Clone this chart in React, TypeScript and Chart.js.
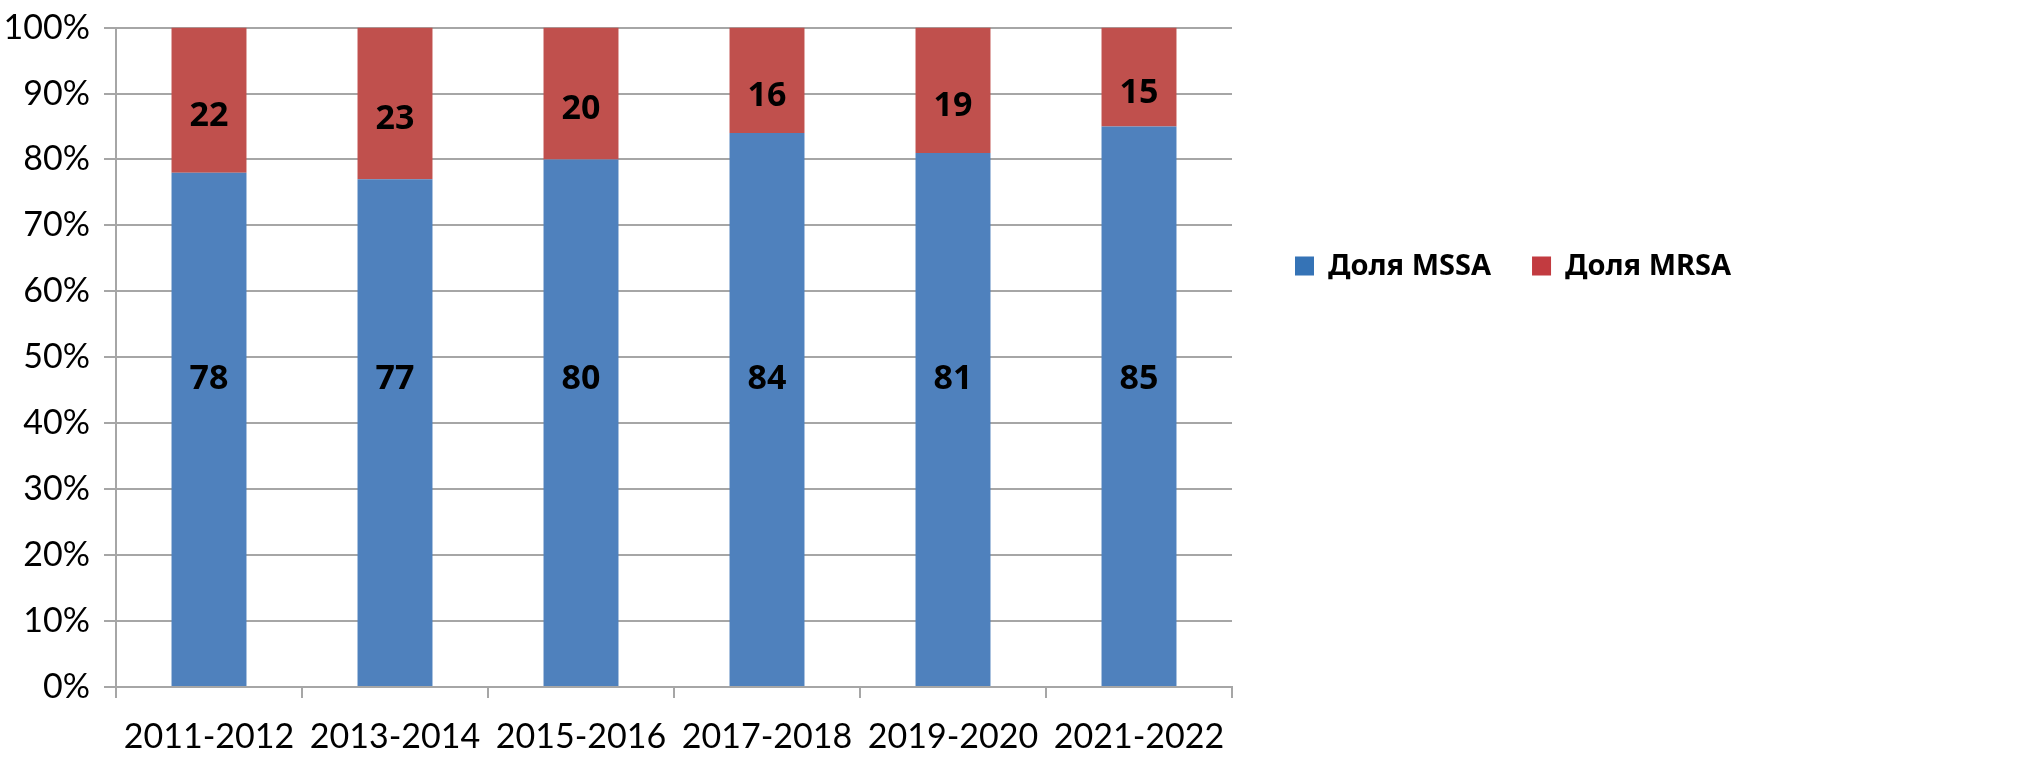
import React, { useEffect, useRef } from "react";
import { Chart, registerables } from "chart.js";

Chart.register(...registerables);

const categories = ["2011-2012", "2013-2014", "2015-2016", "2017-2018", "2019-2020", "2021-2022"];
const mssaShare = [78, 77, 80, 84, 81, 85];
const mrsaShare = [22, 23, 20, 16, 19, 15];
const seriesNames = ["Доля MSSA", "Доля MRSA"];
const yTicks = [0, 10, 20, 30, 40, 50, 60, 70, 80, 90, 100];

const BLUE = "#4f81bd";
const RED = "#c0504d";
const GRID = "#a6a6a6";

const labelPlugin = {
  id: "segmentLabels",
  afterDatasetsDraw(chart: any) {
    const ctx = chart.ctx;
    const yScale = chart.scales.y;
    ctx.save();
    ctx.font = "bold 34px 'Noto Sans'";
    ctx.fillStyle = "#000";
    ctx.textAlign = "center";
    ctx.textBaseline = "middle";
    chart.data.datasets.forEach((ds: any, di: number) => {
      const meta = chart.getDatasetMeta(di);
      meta.data.forEach((bar: any, i: number) => {
        let y: number;
        if (di === 0) {
          y = yScale.getPixelForValue(46.7);
        } else {
          y = (bar.y + bar.base) / 2 + 16;
        }
        ctx.fillText(String(ds.data[i]), bar.x, y);
      });
    });
    ctx.restore();
  },
};

const legendPlugin = {
  id: "rowLegend",
  afterDraw(chart: any) {
    const ctx = chart.ctx;
    ctx.save();
    ctx.font = "bold 29px 'Noto Sans'";
    ctx.textBaseline = "middle";
    ctx.textAlign = "left";
    let x = chart.chartArea.right + 63;
    const cy = 266;
    const box = 19;
    const colors = ["#3573b6", "#c23b40"];
    chart.data.datasets.forEach((ds: any, i: number) => {
      ctx.fillStyle = colors[i];
      ctx.fillRect(x, cy - box / 2, box, box);
      x += box + 14;
      ctx.fillStyle = "#000";
      ctx.fillText(ds.label, x, cy + 1);
      x += ctx.measureText(ds.label).width + 41;
    });
    ctx.restore();
  },
};

export default function App() {
  const ref = useRef<HTMLCanvasElement | null>(null);
  useEffect(() => {
    if (!ref.current) return;
    const chart = new Chart(ref.current, {
      type: "bar",
      data: {
        labels: categories,
        datasets: [
          { label: seriesNames[0], data: mssaShare, backgroundColor: BLUE, categoryPercentage: 1, barPercentage: 0.403 },
          { label: seriesNames[1], data: mrsaShare, backgroundColor: RED, categoryPercentage: 1, barPercentage: 0.403 },
        ],
      },
      options: {
        responsive: false,
        animation: false,
        layout: { padding: { top: 27, right: 811, left: 0, bottom: 0 } },
        plugins: { legend: { display: false }, tooltip: { enabled: false } },
        scales: {
          x: {
            stacked: true,
            offset: true,
            grid: { display: true, drawOnChartArea: false, offset: true, color: GRID, lineWidth: 2, tickLength: 11 },
            border: { display: true, color: GRID, width: 2 },
            ticks: { color: "#000", font: { family: "Lato", size: 34 }, padding: 19, maxRotation: 0 },
            afterFit: (s: any) => { s.height = 80; },
          },
          y: {
            stacked: true,
            min: 0,
            max: 100,
            afterBuildTicks: (s: any) => { s.ticks = yTicks.map((v) => ({ value: v })); },
            grid: { color: GRID, lineWidth: 2, tickLength: 12 },
            border: { display: true, color: GRID, width: 2 },
            ticks: { color: "#000", font: { family: "Lato", size: 34, lineHeight: 0.8 }, padding: 14, callback: (v: any) => v + "%" },
            afterFit: (s: any) => { s.width = 116; },
          },
        },
      },
      plugins: [labelPlugin, legendPlugin],
    });
    return () => chart.destroy();
  }, []);
  return (
    <div style={{ position: "absolute", left: 0, top: 0, width: 2043, height: 767, background: "#fff" }}>
      <canvas ref={ref} width={2043} height={767} />
    </div>
  );
}
